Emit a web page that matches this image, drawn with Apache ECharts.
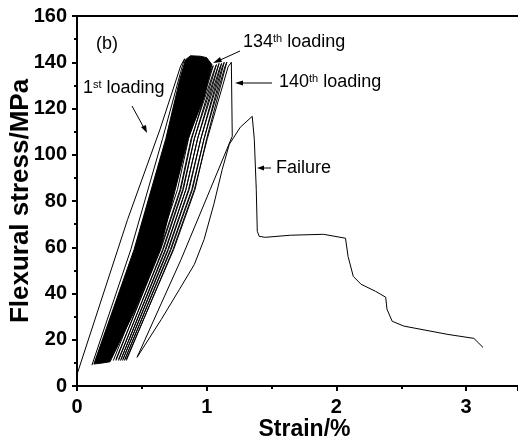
<!DOCTYPE html>
<html>
<head>
<meta charset="utf-8">
<script src="https://cdn.jsdelivr.net/npm/echarts@6/dist/echarts.min.js"></script>
<style>
  html, body { margin: 0; padding: 0; background: #fff; }
  #main { width: 518px; height: 440px; }
</style>
</head>
<body>
<div id="main"></div>
<script>
// strain (%) / flexural stress (MPa)

// 1st loading / unloading cycle
var firstLoop = [
  [0.0, 5.0], [0.39, 72], [0.64, 111], [0.80, 138.5], [0.83, 141.5],
  [0.815, 139], [0.66, 107], [0.415, 59], [0.115, 9]
];

// dense black band of cycles 2..134 (outline)
var denseBand = [
  [0.13, 9.5], [0.44, 59], [0.685, 107], [0.79, 132], [0.835, 141],
  [0.875, 142.8], [0.95, 142.6], [1.0, 142], [1.04, 139], [0.98, 125],
  [0.857, 107], [0.64, 59], [0.44, 32], [0.255, 10.5], [0.20, 10]
];

// late cycles 134..139 (thin striped loops)
var loopA = [[0.28, 11], [0.62, 59], [0.775, 85], [0.86, 107], [1.03, 136], [1.05, 138.5], [0.885, 107], [0.80, 85], [0.645, 59], [0.30, 11.5]];
var loopB = [[0.30, 11], [0.64, 59], [0.795, 85], [0.88, 107], [1.06, 137], [1.075, 139], [0.905, 107], [0.82, 85], [0.665, 59], [0.32, 11.5]];
var loopC = [[0.32, 11], [0.66, 59], [0.815, 85], [0.905, 107], [1.08, 137], [1.095, 139.5], [0.93, 107], [0.84, 85], [0.685, 59], [0.34, 11.5]];
var loopD = [[0.335, 11], [0.68, 59], [0.84, 85], [0.93, 107], [1.10, 137.5], [1.115, 139.5], [0.955, 107], [0.865, 85], [0.705, 59], [0.355, 11.5]];
var loopE = [[0.35, 11], [0.70, 59], [0.86, 85], [0.955, 107], [1.12, 138], [1.135, 140], [0.98, 107], [0.89, 85], [0.725, 59], [0.37, 11.5]];
var loopF = [[0.365, 11], [0.72, 59], [0.885, 85], [0.98, 107], [1.14, 138], [1.155, 140], [1.0, 107], [0.91, 85], [0.745, 59], [0.38, 11.5]];

// 140th cycle: loading, hold drop, unloading
var loop140 = [
  [0.38, 11], [0.74, 59], [0.905, 85], [1.005, 107], [1.165, 138], [1.19, 140],
  [1.197, 108], [1.027, 85], [0.803, 54.8], [0.463, 12.4]
];

// final loading to failure and post-failure response
var failureCurve = [
  [0.463, 12.4], [0.65, 28.8], [0.79, 41.8], [0.905, 52.6], [0.98, 63.4],
  [1.055, 78.6], [1.12, 93.7], [1.174, 104.5], [1.259, 111.9], [1.351, 116.6],
  [1.367, 106.7], [1.382, 85.1], [1.39, 66.9], [1.405, 64.7], [1.452, 64.3],
  [1.645, 65.2], [1.9, 65.6], [2.07, 63.9], [2.09, 56], [2.13, 47.4],
  [2.19, 44], [2.30, 41], [2.38, 38.4], [2.39, 33.2], [2.43, 28],
  [2.52, 25.9], [2.86, 22.3], [3.06, 20.6], [3.13, 16.7]
];

var xTicks = [0, 1, 2, 3];
var yTicks = [0, 20, 40, 60, 80, 100, 120, 140, 160];

var FONT = 'Liberation Sans, Arial, sans-serif';

function thinLine(name, data) {
  return {
    name: name,
    type: 'line',
    data: data,
    showSymbol: false,
    symbol: 'none',
    silent: true,
    lineStyle: { color: '#000', width: 1 },
    z: 3
  };
}

function supLabel(main, sup, rest) {
  return {
    text: '{a|' + main + '}{s|' + sup + '}{a|' + rest + '}',
    rich: {
      a: { fontFamily: FONT, fontSize: 18, color: '#000', verticalAlign: 'bottom' },
      s: { fontFamily: FONT, fontSize: 11, color: '#000', verticalAlign: 'top' }
    }
  };
}

var chart = echarts.init(document.getElementById('main'));

var option = {
  animation: false,
  backgroundColor: '#fff',
  grid: { left: 77, right: 0, top: 16, bottom: 54, containLabel: false, outerBoundsMode: 'none' },
  xAxis: [{
    type: 'value',
    min: 0,
    max: 3.4,
    interval: 1,
    name: 'Strain/%',
    nameLocation: 'middle',
    nameMoveOverlap: false,
    nameGap: 32,
    nameTextStyle: { fontFamily: FONT, fontWeight: 'bold', fontSize: 23, color: '#000', padding: [0, 0, 0, 14] },
    axisLine: { lineStyle: { color: '#000', width: 2 } },
    axisTick: { length: 5, lineStyle: { width: 2, color: '#000' } },
    minorTick: { show: true, splitNumber: 2, length: 3, lineStyle: { width: 2, color: '#000' } },
    axisLabel: {
      margin: 11,
      fontFamily: FONT, fontWeight: 'bold', fontSize: 20, color: '#000',
      formatter: function (v) { return xTicks.indexOf(v) >= 0 ? String(v) : ''; }
    },
    splitLine: { show: false }
  }, {
    type: 'value',
    position: 'top',
    min: 0,
    max: 3.4,
    axisLine: { lineStyle: { color: '#000', width: 2 } },
    axisTick: { show: false },
    axisLabel: { show: false },
    splitLine: { show: false }
  }],
  yAxis: {
    type: 'value',
    min: 0,
    max: 160,
    interval: 20,
    name: 'Flexural stress/MPa',
    nameLocation: 'middle',
    nameMoveOverlap: false,
    nameGap: 43,
    nameTextStyle: { fontFamily: FONT, fontWeight: 'bold', fontSize: 26, color: '#000' },
    axisLine: { show: true, lineStyle: { color: '#000', width: 2 } },
    axisTick: { show: true, length: 5, lineStyle: { width: 2, color: '#000' } },
    minorTick: { show: true, splitNumber: 2, length: 3, lineStyle: { width: 2, color: '#000' } },
    axisLabel: {
      margin: 10,
      fontFamily: FONT, fontWeight: 'bold', fontSize: 20, color: '#000',
      formatter: function (v) { return yTicks.indexOf(v) >= 0 ? String(v) : ''; }
    },
    splitLine: { show: false }
  },
  series: [
    {
      // filled outline of the dense cycles
      name: 'band',
      type: 'custom',
      silent: true,
      data: [0],
      renderItem: function (params, api) {
        var pts = denseBand.map(function (p) { return api.coord(p); });
        return {
          type: 'polygon',
          shape: { points: pts },
          style: { fill: '#000', stroke: '#000', lineWidth: 1 }
        };
      },
      z: 2
    },
    thinLine('1st', firstLoop),
    thinLine('A', loopA),
    thinLine('B', loopB),
    thinLine('C', loopC),
    thinLine('D', loopD),
    thinLine('E', loopE),
    thinLine('F', loopF),
    thinLine('140th', loop140),
    thinLine('failure', failureCurve)
  ],
  graphic: [
    { type: 'text', left: 96, top: 35, style: { text: '(b)', font: '18px ' + FONT, fill: '#000' } },
    { type: 'text', left: 243, top: 33, style: supLabel('134', 'th', ' loading') },
    { type: 'text', left: 279, top: 73, style: supLabel('140', 'th', ' loading') },
    { type: 'text', left: 83, top: 79, style: supLabel('1', 'st', ' loading') },
    { type: 'text', left: 276, top: 159, style: { text: 'Failure', font: '18px ' + FONT, fill: '#000' } },

    // arrows
    { type: 'line', shape: { x1: 240, y1: 51, x2: 218, y2: 61 }, style: { stroke: '#000', lineWidth: 1 } },
    { type: 'polygon', shape: { points: [[213, 63], [220, 57], [222, 62]] }, style: { fill: '#000' } },
    { type: 'line', shape: { x1: 272, y1: 83, x2: 240, y2: 83 }, style: { stroke: '#000', lineWidth: 1 } },
    { type: 'polygon', shape: { points: [[235, 83], [243, 80.5], [243, 85.5]] }, style: { fill: '#000' } },
    { type: 'line', shape: { x1: 132, y1: 106, x2: 144, y2: 128 }, style: { stroke: '#000', lineWidth: 1 } },
    { type: 'polygon', shape: { points: [[147, 133], [141, 127], [146, 125]] }, style: { fill: '#000' } },
    { type: 'line', shape: { x1: 271, y1: 168, x2: 262, y2: 168 }, style: { stroke: '#000', lineWidth: 1 } },
    { type: 'polygon', shape: { points: [[257, 168], [264, 165.5], [264, 170.5]] }, style: { fill: '#000' } }
  ]
};

chart.setOption(option);
</script>
</body>
</html>
